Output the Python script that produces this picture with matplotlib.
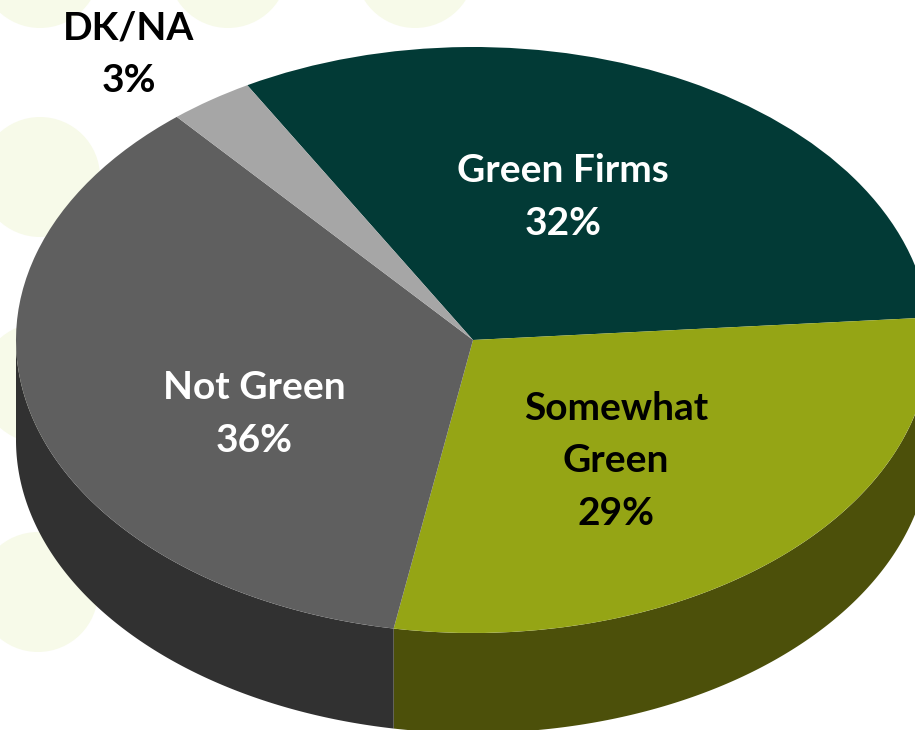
import numpy as np
import matplotlib
matplotlib.use('Agg')
import matplotlib.pyplot as plt
from matplotlib.patches import Circle

# Survey shares, clockwise from the top
categories = ['Green Firms', 'Somewhat\nGreen', 'Not Green', 'DK/NA']
shares = [32, 29, 36, 3]
top_colors = ['#023a36', '#95a515', '#5f5f5f', '#a6a6a6']
side_colors = ['#01211f', '#4c500a', '#313131', '#5c5c5c']
text_colors = ['white', 'black', 'white', 'black']

# Label block centres, in figure pixels
label_x = [563, 616, 254, 129]
label_y = [197, 461, 414, 54]

# Pale dots behind the pie
dot_x = [40, 228, 415, 40, 40, 38]
dot_y = [-32, -32, -32, 177, 383, 592]
dot_color = '#f7fae9'

W, H = 915, 730
CX, CY = 473, 340      # pie centre
RX, RY = 457, 293      # tilted ellipse radii
DEPTH = 100            # wall height

plt.rcParams['font.family'] = ['Lato', 'DejaVu Sans']

fig = plt.figure(figsize=(W / 100, H / 100), dpi=100, facecolor='white')

# Pixel axes for the dots and the text
bg = fig.add_axes([0, 0, 1, 1], zorder=1)
bg.set_xlim(0, W)
bg.set_ylim(H, 0)
bg.axis('off')
for x, y in zip(dot_x, dot_y):
    bg.add_patch(Circle((x, y), 60, fc=dot_color, ec='none'))

# Pie axes, squashed so the unit circle becomes the ellipse
ax = fig.add_axes([0, 0, 1, 1], zorder=2)
wedges, _ = ax.pie(shares, colors=top_colors, startangle=119.6, counterclock=False,
                   wedgeprops={'linewidth': 0})
ax.set_aspect('auto')
ax.set_xlim(-CX / RX, (W - CX) / RX)
ax.set_ylim((CY - H) / RY, CY / RY)
ax.patch.set_alpha(0)

# Side wall under the front half of each wedge
dz = DEPTH / RY
for w, c in zip(wedges, side_colors):
    a0 = max(w.theta1, -180)
    a1 = min(w.theta2, 0)
    if a1 <= a0:
        continue
    t = np.radians(np.linspace(a0, a1, 200))
    xs = np.concatenate([np.cos(t), np.cos(t[::-1])])
    ys = np.concatenate([np.sin(t), np.sin(t[::-1]) - dz])
    ax.fill(xs, ys, color=c, lw=0, zorder=0)

# Text on top of everything
top = fig.add_axes([0, 0, 1, 1], zorder=3)
top.set_xlim(0, W)
top.set_ylim(H, 0)
top.axis('off')
for name, val, x, y, c in zip(categories, shares, label_x, label_y, text_colors):
    top.text(x, y, f'{name}\n{val}%', color=c, ha='center', va='center',
             fontsize=28, fontweight='bold', linespacing=1.6, multialignment='center')

fig.savefig('out.png', dpi=100)
